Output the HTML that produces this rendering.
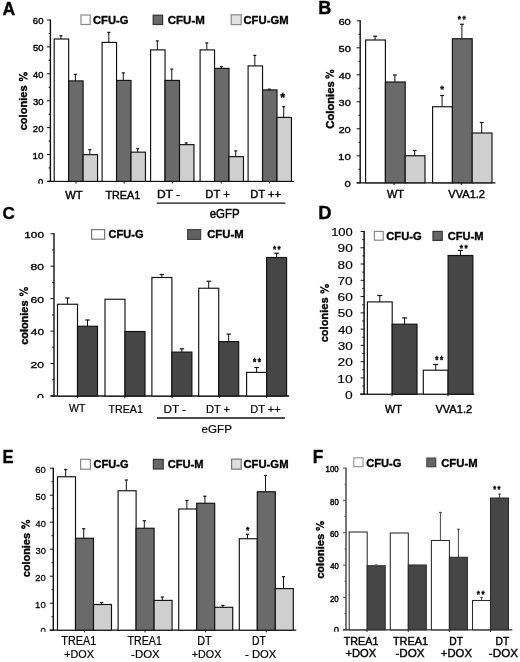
<!DOCTYPE html>
<html><head><meta charset="utf-8"><style>
html,body{margin:0;padding:0;background:#fff;}
svg{display:block;font-family:"Liberation Sans",sans-serif;filter:grayscale(1) blur(0.3px);will-change:transform;}
</style></head><body>
<svg width="520" height="662" viewBox="0 0 520 662">
<rect width="520" height="662" fill="#fff"/>
<line x1="50.40" y1="19.50" x2="50.40" y2="181.90" stroke="#111" stroke-width="1.4"/>
<line x1="46.90" y1="181.40" x2="50.40" y2="181.40" stroke="#111" stroke-width="1.0"/>
<line x1="46.90" y1="154.50" x2="50.40" y2="154.50" stroke="#111" stroke-width="1.0"/>
<line x1="46.90" y1="127.60" x2="50.40" y2="127.60" stroke="#111" stroke-width="1.0"/>
<line x1="46.90" y1="100.70" x2="50.40" y2="100.70" stroke="#111" stroke-width="1.0"/>
<line x1="46.90" y1="73.80" x2="50.40" y2="73.80" stroke="#111" stroke-width="1.0"/>
<line x1="46.90" y1="46.90" x2="50.40" y2="46.90" stroke="#111" stroke-width="1.0"/>
<line x1="46.90" y1="20.00" x2="50.40" y2="20.00" stroke="#111" stroke-width="1.0"/>
<line x1="48.60" y1="167.95" x2="50.40" y2="167.95" stroke="#111" stroke-width="1.0"/>
<line x1="48.60" y1="141.05" x2="50.40" y2="141.05" stroke="#111" stroke-width="1.0"/>
<line x1="48.60" y1="114.15" x2="50.40" y2="114.15" stroke="#111" stroke-width="1.0"/>
<line x1="48.60" y1="87.25" x2="50.40" y2="87.25" stroke="#111" stroke-width="1.0"/>
<line x1="48.60" y1="60.35" x2="50.40" y2="60.35" stroke="#111" stroke-width="1.0"/>
<line x1="48.60" y1="33.45" x2="50.40" y2="33.45" stroke="#111" stroke-width="1.0"/>
<line x1="47.40" y1="181.40" x2="293.80" y2="181.40" stroke="#111" stroke-width="1.3"/>
<line x1="76.00" y1="181.40" x2="76.00" y2="183.60" stroke="#111" stroke-width="1.0"/>
<line x1="124.20" y1="181.40" x2="124.20" y2="183.60" stroke="#111" stroke-width="1.0"/>
<line x1="172.60" y1="181.40" x2="172.60" y2="183.60" stroke="#111" stroke-width="1.0"/>
<line x1="221.20" y1="181.40" x2="221.20" y2="183.60" stroke="#111" stroke-width="1.0"/>
<line x1="269.40" y1="181.40" x2="269.40" y2="183.60" stroke="#111" stroke-width="1.0"/>
<text transform="translate(32.56,158.61) scale(1.103,1)" font-size="8.90" font-weight="normal" fill="#000" stroke="#000" stroke-width="0.36">10</text>
<text transform="translate(32.82,131.71) scale(1.076,1)" font-size="8.90" font-weight="normal" fill="#000" stroke="#000" stroke-width="0.37">20</text>
<text transform="translate(32.94,104.81) scale(1.063,1)" font-size="8.90" font-weight="normal" fill="#000" stroke="#000" stroke-width="0.38">30</text>
<text transform="translate(33.09,77.91) scale(1.048,1)" font-size="8.90" font-weight="normal" fill="#000" stroke="#000" stroke-width="0.38">40</text>
<text transform="translate(32.92,51.01) scale(1.066,1)" font-size="8.90" font-weight="normal" fill="#000" stroke="#000" stroke-width="0.38">50</text>
<text transform="translate(32.82,24.11) scale(1.076,1)" font-size="8.90" font-weight="normal" fill="#000" stroke="#000" stroke-width="0.37">60</text>
<clipPath id="cA"><rect x="30" y="170" width="20" height="13.8"/></clipPath>
<g clip-path="url(#cA)">
<text transform="translate(37.92,185.11) scale(1.093,1)" font-size="8.62" font-weight="normal" fill="#000" stroke="#000" stroke-width="0.37">0</text>
</g>
<rect x="54.20" y="39.00" width="14.45" height="142.40" fill="#ffffff" stroke="#111" stroke-width="1.15"/>
<line x1="60.93" y1="39.00" x2="60.93" y2="35.80" stroke="#111" stroke-width="1.0"/>
<line x1="59.43" y1="35.80" x2="62.43" y2="35.80" stroke="#111" stroke-width="1.2"/>
<rect x="68.65" y="80.90" width="14.45" height="100.50" fill="#6a6a6a" stroke="#111" stroke-width="1.15"/>
<line x1="75.38" y1="80.90" x2="75.38" y2="74.40" stroke="#111" stroke-width="1.0"/>
<line x1="73.88" y1="74.40" x2="76.88" y2="74.40" stroke="#111" stroke-width="1.2"/>
<rect x="83.10" y="154.65" width="14.45" height="26.75" fill="#cfcfcf" stroke="#111" stroke-width="1.15"/>
<line x1="89.82" y1="154.65" x2="89.82" y2="149.65" stroke="#111" stroke-width="1.0"/>
<line x1="88.32" y1="149.65" x2="91.32" y2="149.65" stroke="#111" stroke-width="1.2"/>
<rect x="102.10" y="42.40" width="14.45" height="139.00" fill="#ffffff" stroke="#111" stroke-width="1.15"/>
<line x1="108.82" y1="42.40" x2="108.82" y2="32.40" stroke="#111" stroke-width="1.0"/>
<line x1="107.32" y1="32.40" x2="110.32" y2="32.40" stroke="#111" stroke-width="1.2"/>
<rect x="116.55" y="80.40" width="14.45" height="101.00" fill="#6a6a6a" stroke="#111" stroke-width="1.15"/>
<line x1="123.28" y1="80.40" x2="123.28" y2="72.90" stroke="#111" stroke-width="1.0"/>
<line x1="121.78" y1="72.90" x2="124.78" y2="72.90" stroke="#111" stroke-width="1.2"/>
<rect x="131.00" y="152.15" width="14.45" height="29.25" fill="#cfcfcf" stroke="#111" stroke-width="1.15"/>
<line x1="137.72" y1="152.15" x2="137.72" y2="148.65" stroke="#111" stroke-width="1.0"/>
<line x1="136.22" y1="148.65" x2="139.22" y2="148.65" stroke="#111" stroke-width="1.2"/>
<rect x="150.60" y="49.90" width="14.45" height="131.50" fill="#ffffff" stroke="#111" stroke-width="1.15"/>
<line x1="157.32" y1="49.90" x2="157.32" y2="40.90" stroke="#111" stroke-width="1.0"/>
<line x1="155.82" y1="40.90" x2="158.82" y2="40.90" stroke="#111" stroke-width="1.2"/>
<rect x="165.05" y="80.40" width="14.45" height="101.00" fill="#6a6a6a" stroke="#111" stroke-width="1.15"/>
<line x1="171.77" y1="80.40" x2="171.77" y2="69.15" stroke="#111" stroke-width="1.0"/>
<line x1="170.27" y1="69.15" x2="173.27" y2="69.15" stroke="#111" stroke-width="1.2"/>
<rect x="179.50" y="144.65" width="14.45" height="36.75" fill="#cfcfcf" stroke="#111" stroke-width="1.15"/>
<line x1="186.22" y1="144.65" x2="186.22" y2="142.90" stroke="#111" stroke-width="1.0"/>
<line x1="184.72" y1="142.90" x2="187.72" y2="142.90" stroke="#111" stroke-width="1.2"/>
<rect x="200.10" y="49.90" width="14.45" height="131.50" fill="#ffffff" stroke="#111" stroke-width="1.15"/>
<line x1="206.82" y1="49.90" x2="206.82" y2="42.90" stroke="#111" stroke-width="1.0"/>
<line x1="205.32" y1="42.90" x2="208.32" y2="42.90" stroke="#111" stroke-width="1.2"/>
<rect x="214.55" y="68.40" width="14.45" height="113.00" fill="#6a6a6a" stroke="#111" stroke-width="1.15"/>
<line x1="221.27" y1="68.40" x2="221.27" y2="66.65" stroke="#111" stroke-width="1.0"/>
<line x1="219.77" y1="66.65" x2="222.77" y2="66.65" stroke="#111" stroke-width="1.2"/>
<rect x="229.00" y="156.65" width="14.45" height="24.75" fill="#cfcfcf" stroke="#111" stroke-width="1.15"/>
<line x1="235.72" y1="156.65" x2="235.72" y2="150.90" stroke="#111" stroke-width="1.0"/>
<line x1="234.22" y1="150.90" x2="237.22" y2="150.90" stroke="#111" stroke-width="1.2"/>
<rect x="248.10" y="65.90" width="14.45" height="115.50" fill="#ffffff" stroke="#111" stroke-width="1.15"/>
<line x1="254.82" y1="65.90" x2="254.82" y2="55.40" stroke="#111" stroke-width="1.0"/>
<line x1="253.32" y1="55.40" x2="256.32" y2="55.40" stroke="#111" stroke-width="1.2"/>
<rect x="262.55" y="89.90" width="14.45" height="91.50" fill="#6a6a6a" stroke="#111" stroke-width="1.15"/>
<line x1="269.27" y1="89.90" x2="269.27" y2="89.15" stroke="#111" stroke-width="1.0"/>
<line x1="267.77" y1="89.15" x2="270.77" y2="89.15" stroke="#111" stroke-width="1.2"/>
<rect x="277.00" y="117.40" width="14.45" height="64.00" fill="#cfcfcf" stroke="#111" stroke-width="1.15"/>
<line x1="283.73" y1="117.40" x2="283.73" y2="106.65" stroke="#111" stroke-width="1.0"/>
<line x1="282.23" y1="106.65" x2="285.23" y2="106.65" stroke="#111" stroke-width="1.2"/>
<text transform="translate(280.32,102.36) scale(1.032,1)" font-size="12.08" font-weight="bold" fill="#000" stroke="#000" stroke-width="0.29">*</text>
<text transform="translate(65.14,198.55) scale(0.980,1)" font-size="11.42" font-weight="normal" fill="#000" stroke="#000" stroke-width="0.41">WT</text>
<text transform="translate(105.46,198.55) scale(0.947,1)" font-size="11.42" font-weight="normal" fill="#000" stroke="#000" stroke-width="0.42">TREA1</text>
<text transform="translate(156.90,198.30) scale(1.122,1)" font-size="10.76" font-weight="normal" fill="#000" stroke="#000" stroke-width="0.36">DT -</text>
<text transform="translate(205.27,198.30) scale(1.045,1)" font-size="10.76" font-weight="normal" fill="#000" stroke="#000" stroke-width="0.38">DT +</text>
<text transform="translate(250.28,198.30) scale(1.039,1)" font-size="10.76" font-weight="normal" fill="#000" stroke="#000" stroke-width="0.39">DT ++</text>
<line x1="156.80" y1="203.20" x2="285.40" y2="203.20" stroke="#111" stroke-width="1.3"/>
<text transform="translate(209.71,218.28) scale(0.964,1)" font-size="11.87" font-weight="normal" fill="#000" stroke="#000" stroke-width="0.42">eGFP</text>
<text transform="translate(27.19,130.34) rotate(-90) scale(1.017,1)" font-size="10.88" font-weight="bold" fill="#000" stroke="#000" stroke-width="0.39">colonies</text>
<ellipse cx="25.50" cy="74.00" rx="1.55" ry="1.25" fill="none" stroke="#000" stroke-width="1.3"/>
<ellipse cx="21.00" cy="79.40" rx="1.55" ry="1.25" fill="none" stroke="#000" stroke-width="1.3"/>
<line x1="18.90" y1="74.40" x2="27.60" y2="79.20" stroke="#000" stroke-width="1.3"/>
<text transform="translate(2.44,14.62) scale(0.961,1)" font-size="18.25" font-weight="bold" fill="#000" stroke="#000" stroke-width="0.36">A</text>
<rect x="81.00" y="15.00" width="9.20" height="9.50" fill="#fff" stroke="#8a8a8a" stroke-width="1.2"/>
<text transform="translate(93.03,24.12) scale(1.021,1)" font-size="10.95" font-weight="bold" fill="#000" stroke="#000" stroke-width="0.34">CFU-G</text>
<rect x="153.20" y="15.20" width="9.40" height="9.30" fill="#6a6a6a" stroke="#333" stroke-width="1.2"/>
<text transform="translate(167.71,24.12) scale(1.053,1)" font-size="10.95" font-weight="bold" fill="#000" stroke="#000" stroke-width="0.33">CFU-M</text>
<rect x="231.20" y="14.80" width="10.00" height="9.80" fill="#e2e2e2" stroke="#888" stroke-width="1.2"/>
<text transform="translate(243.47,24.12) scale(1.030,1)" font-size="10.95" font-weight="bold" fill="#000" stroke="#000" stroke-width="0.34">CFU-GM</text>
<line x1="360.20" y1="20.30" x2="360.20" y2="183.30" stroke="#111" stroke-width="1.4"/>
<line x1="356.70" y1="182.80" x2="360.20" y2="182.80" stroke="#111" stroke-width="1.0"/>
<line x1="356.70" y1="155.80" x2="360.20" y2="155.80" stroke="#111" stroke-width="1.0"/>
<line x1="356.70" y1="128.80" x2="360.20" y2="128.80" stroke="#111" stroke-width="1.0"/>
<line x1="356.70" y1="101.80" x2="360.20" y2="101.80" stroke="#111" stroke-width="1.0"/>
<line x1="356.70" y1="74.80" x2="360.20" y2="74.80" stroke="#111" stroke-width="1.0"/>
<line x1="356.70" y1="47.80" x2="360.20" y2="47.80" stroke="#111" stroke-width="1.0"/>
<line x1="356.70" y1="20.80" x2="360.20" y2="20.80" stroke="#111" stroke-width="1.0"/>
<line x1="358.40" y1="169.30" x2="360.20" y2="169.30" stroke="#111" stroke-width="1.0"/>
<line x1="358.40" y1="142.30" x2="360.20" y2="142.30" stroke="#111" stroke-width="1.0"/>
<line x1="358.40" y1="115.30" x2="360.20" y2="115.30" stroke="#111" stroke-width="1.0"/>
<line x1="358.40" y1="88.30" x2="360.20" y2="88.30" stroke="#111" stroke-width="1.0"/>
<line x1="358.40" y1="61.30" x2="360.20" y2="61.30" stroke="#111" stroke-width="1.0"/>
<line x1="358.40" y1="34.30" x2="360.20" y2="34.30" stroke="#111" stroke-width="1.0"/>
<line x1="356.70" y1="182.80" x2="495.50" y2="182.80" stroke="#111" stroke-width="1.3"/>
<line x1="394.00" y1="182.80" x2="394.00" y2="185.00" stroke="#111" stroke-width="1.0"/>
<line x1="461.30" y1="182.80" x2="461.30" y2="185.00" stroke="#111" stroke-width="1.0"/>
<text transform="translate(344.55,186.81) scale(1.250,1)" font-size="9.05" font-weight="normal" fill="#000" stroke="#000" stroke-width="0.32">0</text>
<text transform="translate(338.09,159.81) scale(1.269,1)" font-size="9.05" font-weight="normal" fill="#000" stroke="#000" stroke-width="0.32">10</text>
<text transform="translate(338.39,132.81) scale(1.238,1)" font-size="9.05" font-weight="normal" fill="#000" stroke="#000" stroke-width="0.32">20</text>
<text transform="translate(338.54,105.81) scale(1.223,1)" font-size="9.05" font-weight="normal" fill="#000" stroke="#000" stroke-width="0.33">30</text>
<text transform="translate(338.70,78.81) scale(1.205,1)" font-size="9.05" font-weight="normal" fill="#000" stroke="#000" stroke-width="0.33">40</text>
<text transform="translate(338.51,51.81) scale(1.226,1)" font-size="9.05" font-weight="normal" fill="#000" stroke="#000" stroke-width="0.33">50</text>
<text transform="translate(338.39,24.81) scale(1.238,1)" font-size="9.05" font-weight="normal" fill="#000" stroke="#000" stroke-width="0.32">60</text>
<rect x="365.60" y="40.00" width="19.80" height="142.80" fill="#ffffff" stroke="#111" stroke-width="1.15"/>
<line x1="375.10" y1="40.00" x2="375.10" y2="36.25" stroke="#111" stroke-width="1.0"/>
<line x1="373.20" y1="36.25" x2="377.00" y2="36.25" stroke="#111" stroke-width="1.2"/>
<rect x="385.40" y="82.00" width="19.80" height="100.80" fill="#6a6a6a" stroke="#111" stroke-width="1.15"/>
<line x1="394.90" y1="82.00" x2="394.90" y2="75.00" stroke="#111" stroke-width="1.0"/>
<line x1="393.00" y1="75.00" x2="396.80" y2="75.00" stroke="#111" stroke-width="1.2"/>
<rect x="405.20" y="155.75" width="19.80" height="27.05" fill="#cfcfcf" stroke="#111" stroke-width="1.15"/>
<line x1="414.70" y1="155.75" x2="414.70" y2="150.50" stroke="#111" stroke-width="1.0"/>
<line x1="412.80" y1="150.50" x2="416.60" y2="150.50" stroke="#111" stroke-width="1.2"/>
<rect x="432.60" y="106.75" width="19.80" height="76.05" fill="#ffffff" stroke="#111" stroke-width="1.15"/>
<line x1="442.10" y1="106.75" x2="442.10" y2="95.50" stroke="#111" stroke-width="1.0"/>
<line x1="440.20" y1="95.50" x2="444.00" y2="95.50" stroke="#111" stroke-width="1.2"/>
<rect x="452.40" y="38.75" width="19.80" height="144.05" fill="#6a6a6a" stroke="#111" stroke-width="1.15"/>
<line x1="461.90" y1="38.75" x2="461.90" y2="24.25" stroke="#111" stroke-width="1.0"/>
<line x1="460.00" y1="24.25" x2="463.80" y2="24.25" stroke="#111" stroke-width="1.2"/>
<rect x="472.20" y="133.00" width="19.80" height="49.80" fill="#cfcfcf" stroke="#111" stroke-width="1.15"/>
<line x1="481.70" y1="133.00" x2="481.70" y2="122.50" stroke="#111" stroke-width="1.0"/>
<line x1="479.80" y1="122.50" x2="483.60" y2="122.50" stroke="#111" stroke-width="1.2"/>
<text transform="translate(440.23,92.16) scale(1.119,1)" font-size="8.59" font-weight="bold" fill="#000" stroke="#000" stroke-width="0.27">*</text>
<text transform="translate(457.83,21.51) scale(0.871,1)" font-size="9.40" font-weight="bold" fill="#000" stroke="#000" stroke-width="0.34">*</text>
<text transform="translate(462.48,21.51) scale(0.871,1)" font-size="9.40" font-weight="bold" fill="#000" stroke="#000" stroke-width="0.34">*</text>
<text transform="translate(386.95,198.40) scale(0.940,1)" font-size="11.64" font-weight="normal" fill="#000" stroke="#000" stroke-width="0.43">WT</text>
<text transform="translate(448.34,198.40) scale(0.990,1)" font-size="11.18" font-weight="normal" fill="#000" stroke="#000" stroke-width="0.40">VVA1.2</text>
<text transform="translate(333.68,128.65) rotate(-90) scale(0.971,1)" font-size="11.56" font-weight="bold" fill="#000" stroke="#000" stroke-width="0.41">Colonies</text>
<ellipse cx="332.00" cy="71.30" rx="1.55" ry="1.25" fill="none" stroke="#000" stroke-width="1.3"/>
<ellipse cx="327.40" cy="76.80" rx="1.55" ry="1.25" fill="none" stroke="#000" stroke-width="1.3"/>
<line x1="325.90" y1="72.20" x2="333.60" y2="76.60" stroke="#000" stroke-width="1.3"/>
<text transform="translate(318.15,14.43) scale(1.008,1)" font-size="17.96" font-weight="bold" fill="#000" stroke="#000" stroke-width="0.35">B</text>
<line x1="54.00" y1="233.25" x2="54.00" y2="396.50" stroke="#111" stroke-width="1.4"/>
<line x1="50.50" y1="396.00" x2="54.00" y2="396.00" stroke="#111" stroke-width="1.0"/>
<line x1="50.50" y1="363.55" x2="54.00" y2="363.55" stroke="#111" stroke-width="1.0"/>
<line x1="50.50" y1="331.10" x2="54.00" y2="331.10" stroke="#111" stroke-width="1.0"/>
<line x1="50.50" y1="298.65" x2="54.00" y2="298.65" stroke="#111" stroke-width="1.0"/>
<line x1="50.50" y1="266.20" x2="54.00" y2="266.20" stroke="#111" stroke-width="1.0"/>
<line x1="50.50" y1="233.75" x2="54.00" y2="233.75" stroke="#111" stroke-width="1.0"/>
<line x1="52.20" y1="379.77" x2="54.00" y2="379.77" stroke="#111" stroke-width="1.0"/>
<line x1="52.20" y1="347.32" x2="54.00" y2="347.32" stroke="#111" stroke-width="1.0"/>
<line x1="52.20" y1="314.88" x2="54.00" y2="314.88" stroke="#111" stroke-width="1.0"/>
<line x1="52.20" y1="282.43" x2="54.00" y2="282.43" stroke="#111" stroke-width="1.0"/>
<line x1="52.20" y1="249.97" x2="54.00" y2="249.97" stroke="#111" stroke-width="1.0"/>
<line x1="50.50" y1="396.00" x2="289.20" y2="396.00" stroke="#111" stroke-width="1.3"/>
<line x1="77.50" y1="396.00" x2="77.50" y2="398.20" stroke="#111" stroke-width="1.0"/>
<line x1="124.80" y1="396.00" x2="124.80" y2="398.20" stroke="#111" stroke-width="1.0"/>
<line x1="172.10" y1="396.00" x2="172.10" y2="398.20" stroke="#111" stroke-width="1.0"/>
<line x1="219.40" y1="396.00" x2="219.40" y2="398.20" stroke="#111" stroke-width="1.0"/>
<line x1="266.70" y1="396.00" x2="266.70" y2="398.20" stroke="#111" stroke-width="1.0"/>
<text transform="translate(30.44,367.55) scale(1.272,1)" font-size="9.61" font-weight="normal" fill="#000" stroke="#000" stroke-width="0.31">20</text>
<text transform="translate(30.78,335.10) scale(1.239,1)" font-size="9.61" font-weight="normal" fill="#000" stroke="#000" stroke-width="0.32">40</text>
<text transform="translate(30.44,302.65) scale(1.272,1)" font-size="9.61" font-weight="normal" fill="#000" stroke="#000" stroke-width="0.31">60</text>
<text transform="translate(30.53,270.20) scale(1.263,1)" font-size="9.61" font-weight="normal" fill="#000" stroke="#000" stroke-width="0.32">80</text>
<text transform="translate(24.31,237.75) scale(1.228,1)" font-size="9.61" font-weight="normal" fill="#000" stroke="#000" stroke-width="0.33">100</text>
<clipPath id="cC"><rect x="30" y="380" width="20" height="18.1"/></clipPath>
<g clip-path="url(#cC)">
<text transform="translate(37.33,400.31) scale(1.296,1)" font-size="9.05" font-weight="normal" fill="#000" stroke="#000" stroke-width="0.31">0</text>
</g>
<rect x="57.50" y="304.25" width="20.00" height="91.75" fill="#ffffff" stroke="#111" stroke-width="1.15"/>
<line x1="67.50" y1="304.25" x2="67.50" y2="298.00" stroke="#111" stroke-width="1.0"/>
<line x1="65.25" y1="298.00" x2="69.75" y2="298.00" stroke="#111" stroke-width="1.2"/>
<rect x="77.50" y="326.25" width="20.00" height="69.75" fill="#464646" stroke="#111" stroke-width="1.15"/>
<line x1="87.50" y1="326.25" x2="87.50" y2="320.00" stroke="#111" stroke-width="1.0"/>
<line x1="85.25" y1="320.00" x2="89.75" y2="320.00" stroke="#111" stroke-width="1.2"/>
<rect x="105.00" y="299.25" width="20.00" height="96.75" fill="#ffffff" stroke="#111" stroke-width="1.15"/>
<rect x="125.00" y="331.50" width="20.00" height="64.50" fill="#464646" stroke="#111" stroke-width="1.15"/>
<rect x="151.90" y="277.50" width="20.00" height="118.50" fill="#ffffff" stroke="#111" stroke-width="1.15"/>
<line x1="161.90" y1="277.50" x2="161.90" y2="274.50" stroke="#111" stroke-width="1.0"/>
<line x1="159.65" y1="274.50" x2="164.15" y2="274.50" stroke="#111" stroke-width="1.2"/>
<rect x="171.90" y="352.10" width="20.00" height="43.90" fill="#464646" stroke="#111" stroke-width="1.15"/>
<line x1="181.90" y1="352.10" x2="181.90" y2="348.80" stroke="#111" stroke-width="1.0"/>
<line x1="179.65" y1="348.80" x2="184.15" y2="348.80" stroke="#111" stroke-width="1.2"/>
<rect x="198.70" y="288.25" width="20.00" height="107.75" fill="#ffffff" stroke="#111" stroke-width="1.15"/>
<line x1="208.70" y1="288.25" x2="208.70" y2="281.25" stroke="#111" stroke-width="1.0"/>
<line x1="206.45" y1="281.25" x2="210.95" y2="281.25" stroke="#111" stroke-width="1.2"/>
<rect x="218.70" y="341.60" width="20.00" height="54.40" fill="#464646" stroke="#111" stroke-width="1.15"/>
<line x1="228.70" y1="341.60" x2="228.70" y2="334.10" stroke="#111" stroke-width="1.0"/>
<line x1="226.45" y1="334.10" x2="230.95" y2="334.10" stroke="#111" stroke-width="1.2"/>
<rect x="246.60" y="372.40" width="20.00" height="23.60" fill="#ffffff" stroke="#111" stroke-width="1.15"/>
<line x1="256.60" y1="372.40" x2="256.60" y2="367.50" stroke="#111" stroke-width="1.0"/>
<line x1="254.35" y1="367.50" x2="258.85" y2="367.50" stroke="#111" stroke-width="1.2"/>
<rect x="266.60" y="257.50" width="20.00" height="138.50" fill="#464646" stroke="#111" stroke-width="1.15"/>
<line x1="276.60" y1="257.50" x2="276.60" y2="253.25" stroke="#111" stroke-width="1.0"/>
<line x1="274.35" y1="253.25" x2="278.85" y2="253.25" stroke="#111" stroke-width="1.2"/>
<text transform="translate(253.03,366.12) scale(0.755,1)" font-size="11.01" font-weight="bold" fill="#000" stroke="#000" stroke-width="0.40">*</text>
<text transform="translate(257.73,366.12) scale(0.755,1)" font-size="11.01" font-weight="bold" fill="#000" stroke="#000" stroke-width="0.40">*</text>
<text transform="translate(273.08,252.08) scale(0.791,1)" font-size="9.93" font-weight="bold" fill="#000" stroke="#000" stroke-width="0.38">*</text>
<text transform="translate(277.61,252.08) scale(0.791,1)" font-size="9.93" font-weight="bold" fill="#000" stroke="#000" stroke-width="0.38">*</text>
<text transform="translate(69.05,412.30) scale(0.953,1)" font-size="11.05" font-weight="normal" fill="#000" stroke="#000" stroke-width="0.21">WT</text>
<text transform="translate(108.56,413.00) scale(0.952,1)" font-size="11.20" font-weight="normal" fill="#000" stroke="#000" stroke-width="0.21">TREA1</text>
<text transform="translate(163.43,412.70) scale(1.048,1)" font-size="11.20" font-weight="normal" fill="#000" stroke="#000" stroke-width="0.19">DT -</text>
<text transform="translate(205.98,412.70) scale(0.991,1)" font-size="11.20" font-weight="normal" fill="#000" stroke="#000" stroke-width="0.20">DT +</text>
<text transform="translate(250.18,412.70) scale(0.991,1)" font-size="11.20" font-weight="normal" fill="#000" stroke="#000" stroke-width="0.20">DT ++</text>
<line x1="157.00" y1="418.00" x2="285.00" y2="418.00" stroke="#111" stroke-width="1.3"/>
<text transform="translate(201.61,432.59) scale(1.026,1)" font-size="11.31" font-weight="normal" fill="#000" stroke="#000" stroke-width="0.19">eGFP</text>
<text transform="translate(27.69,344.84) rotate(-90) scale(1.005,1)" font-size="10.88" font-weight="bold" fill="#000" stroke="#000" stroke-width="0.40">colonies</text>
<ellipse cx="26.00" cy="288.90" rx="1.55" ry="1.25" fill="none" stroke="#000" stroke-width="1.3"/>
<ellipse cx="21.50" cy="294.30" rx="1.55" ry="1.25" fill="none" stroke="#000" stroke-width="1.3"/>
<line x1="19.30" y1="289.20" x2="27.70" y2="293.70" stroke="#000" stroke-width="1.3"/>
<text transform="translate(2.59,219.05) scale(0.983,1)" font-size="17.31" font-weight="bold" fill="#000" stroke="#000" stroke-width="0.36">C</text>
<rect x="91.60" y="229.60" width="13.00" height="9.60" fill="#fff" stroke="#777" stroke-width="1.2"/>
<text transform="translate(108.48,238.47) scale(1.095,1)" font-size="10.11" font-weight="bold" fill="#000" stroke="#000" stroke-width="0.32">CFU-G</text>
<rect x="187.60" y="229.60" width="13.00" height="9.80" fill="#606060" stroke="#444" stroke-width="1.2"/>
<text transform="translate(207.22,238.47) scale(1.117,1)" font-size="10.11" font-weight="bold" fill="#000" stroke="#000" stroke-width="0.31">CFU-M</text>
<line x1="364.10" y1="231.00" x2="364.10" y2="394.70" stroke="#111" stroke-width="1.5"/>
<line x1="360.60" y1="394.20" x2="364.10" y2="394.20" stroke="#111" stroke-width="1.0"/>
<line x1="360.60" y1="377.93" x2="364.10" y2="377.93" stroke="#111" stroke-width="1.0"/>
<line x1="360.60" y1="361.66" x2="364.10" y2="361.66" stroke="#111" stroke-width="1.0"/>
<line x1="360.60" y1="345.39" x2="364.10" y2="345.39" stroke="#111" stroke-width="1.0"/>
<line x1="360.60" y1="329.12" x2="364.10" y2="329.12" stroke="#111" stroke-width="1.0"/>
<line x1="360.60" y1="312.85" x2="364.10" y2="312.85" stroke="#111" stroke-width="1.0"/>
<line x1="360.60" y1="296.58" x2="364.10" y2="296.58" stroke="#111" stroke-width="1.0"/>
<line x1="360.60" y1="280.31" x2="364.10" y2="280.31" stroke="#111" stroke-width="1.0"/>
<line x1="360.60" y1="264.04" x2="364.10" y2="264.04" stroke="#111" stroke-width="1.0"/>
<line x1="360.60" y1="247.77" x2="364.10" y2="247.77" stroke="#111" stroke-width="1.0"/>
<line x1="360.60" y1="231.50" x2="364.10" y2="231.50" stroke="#111" stroke-width="1.0"/>
<line x1="362.30" y1="386.06" x2="364.10" y2="386.06" stroke="#111" stroke-width="1.0"/>
<line x1="362.30" y1="369.79" x2="364.10" y2="369.79" stroke="#111" stroke-width="1.0"/>
<line x1="362.30" y1="353.52" x2="364.10" y2="353.52" stroke="#111" stroke-width="1.0"/>
<line x1="362.30" y1="337.25" x2="364.10" y2="337.25" stroke="#111" stroke-width="1.0"/>
<line x1="362.30" y1="320.99" x2="364.10" y2="320.99" stroke="#111" stroke-width="1.0"/>
<line x1="362.30" y1="304.71" x2="364.10" y2="304.71" stroke="#111" stroke-width="1.0"/>
<line x1="362.30" y1="288.44" x2="364.10" y2="288.44" stroke="#111" stroke-width="1.0"/>
<line x1="362.30" y1="272.17" x2="364.10" y2="272.17" stroke="#111" stroke-width="1.0"/>
<line x1="362.30" y1="255.91" x2="364.10" y2="255.91" stroke="#111" stroke-width="1.0"/>
<line x1="362.30" y1="239.63" x2="364.10" y2="239.63" stroke="#111" stroke-width="1.0"/>
<line x1="360.10" y1="394.20" x2="474.40" y2="394.20" stroke="#111" stroke-width="1.3"/>
<line x1="392.00" y1="394.20" x2="392.00" y2="396.40" stroke="#111" stroke-width="1.0"/>
<line x1="448.00" y1="394.20" x2="448.00" y2="396.40" stroke="#111" stroke-width="1.0"/>
<text transform="translate(345.05,398.80) scale(1.377,1)" font-size="10.04" font-weight="normal" fill="#000" stroke="#000" stroke-width="0.15">0</text>
<text transform="translate(337.15,382.53) scale(1.399,1)" font-size="10.04" font-weight="normal" fill="#000" stroke="#000" stroke-width="0.14">10</text>
<text transform="translate(337.52,366.26) scale(1.364,1)" font-size="10.04" font-weight="normal" fill="#000" stroke="#000" stroke-width="0.15">20</text>
<text transform="translate(337.69,349.99) scale(1.348,1)" font-size="10.04" font-weight="normal" fill="#000" stroke="#000" stroke-width="0.15">30</text>
<text transform="translate(337.90,333.72) scale(1.329,1)" font-size="10.04" font-weight="normal" fill="#000" stroke="#000" stroke-width="0.15">40</text>
<text transform="translate(337.66,317.45) scale(1.351,1)" font-size="10.04" font-weight="normal" fill="#000" stroke="#000" stroke-width="0.15">50</text>
<text transform="translate(337.52,301.18) scale(1.364,1)" font-size="10.04" font-weight="normal" fill="#000" stroke="#000" stroke-width="0.15">60</text>
<text transform="translate(337.48,284.91) scale(1.368,1)" font-size="10.04" font-weight="normal" fill="#000" stroke="#000" stroke-width="0.15">70</text>
<text transform="translate(337.62,268.64) scale(1.354,1)" font-size="10.04" font-weight="normal" fill="#000" stroke="#000" stroke-width="0.15">80</text>
<text transform="translate(337.55,252.37) scale(1.361,1)" font-size="10.04" font-weight="normal" fill="#000" stroke="#000" stroke-width="0.15">90</text>
<text transform="translate(331.13,236.10) scale(1.288,1)" font-size="10.04" font-weight="normal" fill="#000" stroke="#000" stroke-width="0.16">100</text>
<rect x="367.40" y="301.90" width="24.80" height="92.30" fill="#ffffff" stroke="#111" stroke-width="1.15"/>
<line x1="379.80" y1="301.90" x2="379.80" y2="295.50" stroke="#111" stroke-width="1.0"/>
<line x1="377.30" y1="295.50" x2="382.30" y2="295.50" stroke="#111" stroke-width="1.2"/>
<rect x="392.20" y="324.20" width="24.80" height="70.00" fill="#464646" stroke="#111" stroke-width="1.15"/>
<line x1="404.60" y1="324.20" x2="404.60" y2="317.90" stroke="#111" stroke-width="1.0"/>
<line x1="402.10" y1="317.90" x2="407.10" y2="317.90" stroke="#111" stroke-width="1.2"/>
<rect x="423.30" y="370.20" width="24.80" height="24.00" fill="#ffffff" stroke="#111" stroke-width="1.15"/>
<line x1="435.70" y1="370.20" x2="435.70" y2="364.50" stroke="#111" stroke-width="1.0"/>
<line x1="433.20" y1="364.50" x2="438.20" y2="364.50" stroke="#111" stroke-width="1.2"/>
<rect x="448.10" y="255.50" width="24.80" height="138.70" fill="#464646" stroke="#111" stroke-width="1.15"/>
<line x1="460.50" y1="255.50" x2="460.50" y2="250.50" stroke="#111" stroke-width="1.0"/>
<line x1="458.00" y1="250.50" x2="463.00" y2="250.50" stroke="#111" stroke-width="1.2"/>
<text transform="translate(435.33,363.75) scale(0.781,1)" font-size="10.47" font-weight="bold" fill="#000" stroke="#000" stroke-width="0.38">*</text>
<text transform="translate(439.98,363.75) scale(0.781,1)" font-size="10.47" font-weight="bold" fill="#000" stroke="#000" stroke-width="0.38">*</text>
<text transform="translate(459.83,250.58) scale(0.824,1)" font-size="9.93" font-weight="bold" fill="#000" stroke="#000" stroke-width="0.36">*</text>
<text transform="translate(464.48,250.58) scale(0.824,1)" font-size="9.93" font-weight="bold" fill="#000" stroke="#000" stroke-width="0.36">*</text>
<text transform="translate(385.05,412.80) scale(0.970,1)" font-size="11.20" font-weight="normal" fill="#000" stroke="#000" stroke-width="0.41">WT</text>
<text transform="translate(435.44,412.80) scale(0.990,1)" font-size="11.18" font-weight="normal" fill="#000" stroke="#000" stroke-width="0.40">VVA1.2</text>
<text transform="translate(328.19,342.34) rotate(-90) scale(1.007,1)" font-size="11.02" font-weight="bold" fill="#000" stroke="#000" stroke-width="0.40">colonies</text>
<ellipse cx="326.90" cy="286.00" rx="1.55" ry="1.25" fill="none" stroke="#000" stroke-width="1.3"/>
<ellipse cx="322.40" cy="291.70" rx="1.55" ry="1.25" fill="none" stroke="#000" stroke-width="1.3"/>
<line x1="320.10" y1="286.70" x2="328.70" y2="291.50" stroke="#000" stroke-width="1.3"/>
<text transform="translate(318.14,219.22) scale(1.039,1)" font-size="17.67" font-weight="bold" fill="#000" stroke="#000" stroke-width="0.34">D</text>
<rect x="374.40" y="231.40" width="8.80" height="8.80" fill="#fff" stroke="#888" stroke-width="1.2"/>
<text transform="translate(386.23,240.47) scale(1.111,1)" font-size="10.11" font-weight="bold" fill="#000" stroke="#000" stroke-width="0.31">CFU-G</text>
<rect x="433.00" y="231.40" width="9.20" height="9.00" fill="#666" stroke="#333" stroke-width="1.2"/>
<text transform="translate(447.73,240.47) scale(1.102,1)" font-size="10.11" font-weight="bold" fill="#000" stroke="#000" stroke-width="0.32">CFU-M</text>
<line x1="53.30" y1="467.70" x2="53.30" y2="630.70" stroke="#111" stroke-width="1.4"/>
<line x1="49.80" y1="630.20" x2="53.30" y2="630.20" stroke="#111" stroke-width="1.0"/>
<line x1="49.80" y1="603.20" x2="53.30" y2="603.20" stroke="#111" stroke-width="1.0"/>
<line x1="49.80" y1="576.20" x2="53.30" y2="576.20" stroke="#111" stroke-width="1.0"/>
<line x1="49.80" y1="549.20" x2="53.30" y2="549.20" stroke="#111" stroke-width="1.0"/>
<line x1="49.80" y1="522.20" x2="53.30" y2="522.20" stroke="#111" stroke-width="1.0"/>
<line x1="49.80" y1="495.20" x2="53.30" y2="495.20" stroke="#111" stroke-width="1.0"/>
<line x1="49.80" y1="468.20" x2="53.30" y2="468.20" stroke="#111" stroke-width="1.0"/>
<line x1="51.50" y1="616.70" x2="53.30" y2="616.70" stroke="#111" stroke-width="1.0"/>
<line x1="51.50" y1="589.70" x2="53.30" y2="589.70" stroke="#111" stroke-width="1.0"/>
<line x1="51.50" y1="562.70" x2="53.30" y2="562.70" stroke="#111" stroke-width="1.0"/>
<line x1="51.50" y1="535.70" x2="53.30" y2="535.70" stroke="#111" stroke-width="1.0"/>
<line x1="51.50" y1="508.70" x2="53.30" y2="508.70" stroke="#111" stroke-width="1.0"/>
<line x1="51.50" y1="481.70" x2="53.30" y2="481.70" stroke="#111" stroke-width="1.0"/>
<line x1="49.80" y1="630.20" x2="296.30" y2="630.20" stroke="#111" stroke-width="1.3"/>
<line x1="84.50" y1="630.20" x2="84.50" y2="632.40" stroke="#111" stroke-width="1.0"/>
<line x1="145.00" y1="630.20" x2="145.00" y2="632.40" stroke="#111" stroke-width="1.0"/>
<line x1="205.60" y1="630.20" x2="205.60" y2="632.40" stroke="#111" stroke-width="1.0"/>
<line x1="266.20" y1="630.20" x2="266.20" y2="632.40" stroke="#111" stroke-width="1.0"/>
<text transform="translate(35.10,607.78) scale(0.985,1)" font-size="9.82" font-weight="normal" fill="#000" stroke="#000" stroke-width="0.25">10</text>
<text transform="translate(35.35,580.78) scale(0.961,1)" font-size="9.82" font-weight="normal" fill="#000" stroke="#000" stroke-width="0.26">20</text>
<text transform="translate(35.48,553.78) scale(0.949,1)" font-size="9.82" font-weight="normal" fill="#000" stroke="#000" stroke-width="0.26">30</text>
<text transform="translate(35.62,526.78) scale(0.936,1)" font-size="9.82" font-weight="normal" fill="#000" stroke="#000" stroke-width="0.27">40</text>
<text transform="translate(35.45,499.78) scale(0.951,1)" font-size="9.82" font-weight="normal" fill="#000" stroke="#000" stroke-width="0.26">50</text>
<text transform="translate(35.35,472.78) scale(0.961,1)" font-size="9.82" font-weight="normal" fill="#000" stroke="#000" stroke-width="0.26">60</text>
<clipPath id="cE"><rect x="30" y="620" width="20" height="11.8"/></clipPath>
<g clip-path="url(#cE)">
<text transform="translate(40.44,633.88) scale(0.991,1)" font-size="9.82" font-weight="normal" fill="#000" stroke="#000" stroke-width="0.25">0</text>
</g>
<rect x="57.50" y="476.75" width="18.00" height="153.45" fill="#ffffff" stroke="#111" stroke-width="1.15"/>
<line x1="65.70" y1="476.75" x2="65.70" y2="469.50" stroke="#111" stroke-width="1.0"/>
<line x1="64.10" y1="469.50" x2="67.30" y2="469.50" stroke="#111" stroke-width="1.2"/>
<rect x="75.50" y="538.25" width="18.00" height="91.95" fill="#6a6a6a" stroke="#111" stroke-width="1.15"/>
<line x1="83.70" y1="538.25" x2="83.70" y2="528.75" stroke="#111" stroke-width="1.0"/>
<line x1="82.10" y1="528.75" x2="85.30" y2="528.75" stroke="#111" stroke-width="1.2"/>
<rect x="93.50" y="604.50" width="18.00" height="25.70" fill="#cfcfcf" stroke="#111" stroke-width="1.15"/>
<line x1="101.70" y1="604.50" x2="101.70" y2="602.50" stroke="#111" stroke-width="1.0"/>
<line x1="100.10" y1="602.50" x2="103.30" y2="602.50" stroke="#111" stroke-width="1.2"/>
<rect x="118.10" y="490.75" width="18.00" height="139.45" fill="#ffffff" stroke="#111" stroke-width="1.15"/>
<line x1="126.30" y1="490.75" x2="126.30" y2="480.00" stroke="#111" stroke-width="1.0"/>
<line x1="124.70" y1="480.00" x2="127.90" y2="480.00" stroke="#111" stroke-width="1.2"/>
<rect x="136.10" y="528.25" width="18.00" height="101.95" fill="#6a6a6a" stroke="#111" stroke-width="1.15"/>
<line x1="144.30" y1="528.25" x2="144.30" y2="520.75" stroke="#111" stroke-width="1.0"/>
<line x1="142.70" y1="520.75" x2="145.90" y2="520.75" stroke="#111" stroke-width="1.2"/>
<rect x="154.10" y="600.40" width="18.00" height="29.80" fill="#cfcfcf" stroke="#111" stroke-width="1.15"/>
<line x1="162.30" y1="600.40" x2="162.30" y2="597.00" stroke="#111" stroke-width="1.0"/>
<line x1="160.70" y1="597.00" x2="163.90" y2="597.00" stroke="#111" stroke-width="1.2"/>
<rect x="178.70" y="509.00" width="18.00" height="121.20" fill="#ffffff" stroke="#111" stroke-width="1.15"/>
<line x1="186.90" y1="509.00" x2="186.90" y2="500.50" stroke="#111" stroke-width="1.0"/>
<line x1="185.30" y1="500.50" x2="188.50" y2="500.50" stroke="#111" stroke-width="1.2"/>
<rect x="196.70" y="503.25" width="18.00" height="126.95" fill="#6a6a6a" stroke="#111" stroke-width="1.15"/>
<line x1="204.90" y1="503.25" x2="204.90" y2="496.25" stroke="#111" stroke-width="1.0"/>
<line x1="203.30" y1="496.25" x2="206.50" y2="496.25" stroke="#111" stroke-width="1.2"/>
<rect x="214.70" y="607.30" width="18.00" height="22.90" fill="#cfcfcf" stroke="#111" stroke-width="1.15"/>
<line x1="222.90" y1="607.30" x2="222.90" y2="605.40" stroke="#111" stroke-width="1.0"/>
<line x1="221.30" y1="605.40" x2="224.50" y2="605.40" stroke="#111" stroke-width="1.2"/>
<rect x="239.30" y="538.75" width="18.00" height="91.45" fill="#ffffff" stroke="#111" stroke-width="1.15"/>
<line x1="247.50" y1="538.75" x2="247.50" y2="534.25" stroke="#111" stroke-width="1.0"/>
<line x1="245.90" y1="534.25" x2="249.10" y2="534.25" stroke="#111" stroke-width="1.2"/>
<rect x="257.30" y="491.75" width="18.00" height="138.45" fill="#6a6a6a" stroke="#111" stroke-width="1.15"/>
<line x1="265.50" y1="491.75" x2="265.50" y2="475.50" stroke="#111" stroke-width="1.0"/>
<line x1="263.90" y1="475.50" x2="267.10" y2="475.50" stroke="#111" stroke-width="1.2"/>
<rect x="275.30" y="588.60" width="18.00" height="41.60" fill="#cfcfcf" stroke="#111" stroke-width="1.15"/>
<line x1="283.50" y1="588.60" x2="283.50" y2="576.70" stroke="#111" stroke-width="1.0"/>
<line x1="281.90" y1="576.70" x2="285.10" y2="576.70" stroke="#111" stroke-width="1.2"/>
<text transform="translate(246.08,532.78) scale(0.863,1)" font-size="9.93" font-weight="bold" fill="#000" stroke="#000" stroke-width="0.35">*</text>
<text transform="translate(61.36,645.10) scale(0.870,1)" font-size="12.51" font-weight="normal" fill="#000" stroke="#000" stroke-width="0.23">TREA1</text>
<text transform="translate(64.16,658.10) scale(1.035,1)" font-size="10.46" font-weight="normal" fill="#000" stroke="#000" stroke-width="0.19">+DOX</text>
<text transform="translate(127.56,645.10) scale(0.852,1)" font-size="12.51" font-weight="normal" fill="#000" stroke="#000" stroke-width="0.23">TREA1</text>
<text transform="translate(131.08,658.10) scale(1.097,1)" font-size="10.46" font-weight="normal" fill="#000" stroke="#000" stroke-width="0.18">-DOX</text>
<text transform="translate(197.21,645.10) scale(0.866,1)" font-size="12.51" font-weight="normal" fill="#000" stroke="#000" stroke-width="0.23">DT</text>
<text transform="translate(191.86,658.10) scale(1.024,1)" font-size="10.46" font-weight="normal" fill="#000" stroke="#000" stroke-width="0.20">+DOX</text>
<text transform="translate(251.95,645.10) scale(0.827,1)" font-size="12.51" font-weight="normal" fill="#000" stroke="#000" stroke-width="0.24">DT</text>
<text transform="translate(244.99,658.10) scale(1.080,1)" font-size="10.46" font-weight="normal" fill="#000" stroke="#000" stroke-width="0.19">- DOX</text>
<text transform="translate(29.50,577.34) rotate(-90) scale(1.045,1)" font-size="10.48" font-weight="bold" fill="#000" stroke="#000" stroke-width="0.38">colonies</text>
<ellipse cx="27.90" cy="521.60" rx="1.55" ry="1.25" fill="none" stroke="#000" stroke-width="1.3"/>
<ellipse cx="23.40" cy="527.00" rx="1.55" ry="1.25" fill="none" stroke="#000" stroke-width="1.3"/>
<line x1="21.40" y1="522.00" x2="29.70" y2="526.50" stroke="#000" stroke-width="1.3"/>
<text transform="translate(2.56,462.72) scale(0.905,1)" font-size="18.25" font-weight="bold" fill="#000" stroke="#000" stroke-width="0.39">E</text>
<rect x="80.60" y="459.30" width="9.80" height="9.90" fill="#fff" stroke="#888" stroke-width="1.2"/>
<text transform="translate(93.48,467.92) scale(1.066,1)" font-size="10.39" font-weight="bold" fill="#000" stroke="#000" stroke-width="0.33">CFU-G</text>
<rect x="153.40" y="459.40" width="9.80" height="9.60" fill="#6a6a6a" stroke="#333" stroke-width="1.2"/>
<text transform="translate(167.73,467.92) scale(1.072,1)" font-size="10.39" font-weight="bold" fill="#000" stroke="#000" stroke-width="0.33">CFU-M</text>
<rect x="231.60" y="459.10" width="9.60" height="10.10" fill="#dedede" stroke="#777" stroke-width="1.2"/>
<text transform="translate(243.47,467.92) scale(1.086,1)" font-size="10.39" font-weight="bold" fill="#000" stroke="#000" stroke-width="0.32">CFU-GM</text>
<line x1="346.00" y1="467.60" x2="346.00" y2="630.30" stroke="#555" stroke-width="1.6"/>
<line x1="343.00" y1="629.80" x2="346.00" y2="629.80" stroke="#555" stroke-width="1.0"/>
<line x1="343.00" y1="597.46" x2="346.00" y2="597.46" stroke="#555" stroke-width="1.0"/>
<line x1="343.00" y1="565.12" x2="346.00" y2="565.12" stroke="#555" stroke-width="1.0"/>
<line x1="343.00" y1="532.78" x2="346.00" y2="532.78" stroke="#555" stroke-width="1.0"/>
<line x1="343.00" y1="500.44" x2="346.00" y2="500.44" stroke="#555" stroke-width="1.0"/>
<line x1="343.00" y1="468.10" x2="346.00" y2="468.10" stroke="#555" stroke-width="1.0"/>
<line x1="344.50" y1="613.63" x2="346.00" y2="613.63" stroke="#555" stroke-width="1.0"/>
<line x1="344.50" y1="581.29" x2="346.00" y2="581.29" stroke="#555" stroke-width="1.0"/>
<line x1="344.50" y1="548.95" x2="346.00" y2="548.95" stroke="#555" stroke-width="1.0"/>
<line x1="344.50" y1="516.61" x2="346.00" y2="516.61" stroke="#555" stroke-width="1.0"/>
<line x1="344.50" y1="484.27" x2="346.00" y2="484.27" stroke="#555" stroke-width="1.0"/>
<line x1="343.00" y1="629.80" x2="512.30" y2="629.80" stroke="#333" stroke-width="1.2"/>
<line x1="367.00" y1="629.80" x2="367.00" y2="632.00" stroke="#333" stroke-width="1.0"/>
<line x1="408.20" y1="629.80" x2="408.20" y2="632.00" stroke="#333" stroke-width="1.0"/>
<line x1="449.30" y1="629.80" x2="449.30" y2="632.00" stroke="#333" stroke-width="1.0"/>
<line x1="490.50" y1="629.80" x2="490.50" y2="632.00" stroke="#333" stroke-width="1.0"/>
<text transform="translate(330.01,601.57) scale(0.907,1)" font-size="8.62" font-weight="normal" fill="#000" stroke="#000" stroke-width="0.44">20</text>
<text transform="translate(330.23,569.23) scale(0.884,1)" font-size="8.62" font-weight="normal" fill="#000" stroke="#000" stroke-width="0.45">40</text>
<text transform="translate(330.01,536.89) scale(0.907,1)" font-size="8.62" font-weight="normal" fill="#000" stroke="#000" stroke-width="0.44">60</text>
<text transform="translate(330.07,504.55) scale(0.901,1)" font-size="8.62" font-weight="normal" fill="#000" stroke="#000" stroke-width="0.44">80</text>
<text transform="translate(325.61,472.21) scale(0.910,1)" font-size="8.62" font-weight="normal" fill="#000" stroke="#000" stroke-width="0.44">100</text>
<clipPath id="cF"><rect x="320" y="620" width="20" height="11.8"/></clipPath>
<g clip-path="url(#cF)">
<text transform="translate(333.72,633.22) scale(1.130,1)" font-size="8.34" font-weight="normal" fill="#000" stroke="#000" stroke-width="0.35">0</text>
</g>
<rect x="349.20" y="532.00" width="18.00" height="97.80" fill="#ffffff" stroke="#2a2a2a" stroke-width="1.05"/>
<rect x="367.20" y="565.75" width="18.00" height="64.05" fill="#464646" stroke="#2a2a2a" stroke-width="1.05"/>
<line x1="376.20" y1="565.75" x2="376.20" y2="565.00" stroke="#444" stroke-width="1.0"/>
<line x1="374.95" y1="565.00" x2="377.45" y2="565.00" stroke="#444" stroke-width="1.2"/>
<rect x="390.30" y="533.00" width="18.00" height="96.80" fill="#ffffff" stroke="#2a2a2a" stroke-width="1.05"/>
<rect x="408.30" y="565.00" width="18.00" height="64.80" fill="#464646" stroke="#2a2a2a" stroke-width="1.05"/>
<rect x="431.40" y="540.50" width="18.00" height="89.30" fill="#ffffff" stroke="#2a2a2a" stroke-width="1.05"/>
<line x1="440.40" y1="540.50" x2="440.40" y2="512.50" stroke="#444" stroke-width="1.0"/>
<line x1="439.15" y1="512.50" x2="441.65" y2="512.50" stroke="#444" stroke-width="1.2"/>
<rect x="449.40" y="557.30" width="18.00" height="72.50" fill="#464646" stroke="#2a2a2a" stroke-width="1.05"/>
<line x1="458.40" y1="557.30" x2="458.40" y2="529.30" stroke="#444" stroke-width="1.0"/>
<line x1="457.15" y1="529.30" x2="459.65" y2="529.30" stroke="#444" stroke-width="1.2"/>
<rect x="472.50" y="600.50" width="18.00" height="29.30" fill="#ffffff" stroke="#2a2a2a" stroke-width="1.05"/>
<line x1="481.50" y1="600.50" x2="481.50" y2="597.50" stroke="#444" stroke-width="1.0"/>
<line x1="480.25" y1="597.50" x2="482.75" y2="597.50" stroke="#444" stroke-width="1.2"/>
<rect x="490.50" y="498.00" width="18.00" height="131.80" fill="#464646" stroke="#2a2a2a" stroke-width="1.05"/>
<line x1="499.50" y1="498.00" x2="499.50" y2="494.00" stroke="#444" stroke-width="1.0"/>
<line x1="498.25" y1="494.00" x2="500.75" y2="494.00" stroke="#444" stroke-width="1.2"/>
<text transform="translate(476.83,597.18) scale(0.824,1)" font-size="9.93" font-weight="bold" fill="#000" stroke="#000" stroke-width="0.36">*</text>
<text transform="translate(481.48,597.18) scale(0.824,1)" font-size="9.93" font-weight="bold" fill="#000" stroke="#000" stroke-width="0.36">*</text>
<text transform="translate(493.23,492.28) scale(0.745,1)" font-size="9.93" font-weight="bold" fill="#000" stroke="#000" stroke-width="0.40">*</text>
<text transform="translate(497.58,492.28) scale(0.745,1)" font-size="9.93" font-weight="bold" fill="#000" stroke="#000" stroke-width="0.40">*</text>
<text transform="translate(343.76,644.80) scale(0.960,1)" font-size="11.20" font-weight="normal" fill="#000" stroke="#000" stroke-width="0.42">TREA1</text>
<text transform="translate(345.44,657.49) scale(1.015,1)" font-size="11.02" font-weight="normal" fill="#000" stroke="#000" stroke-width="0.39">+DOX</text>
<text transform="translate(392.96,644.80) scale(0.971,1)" font-size="11.20" font-weight="normal" fill="#000" stroke="#000" stroke-width="0.41">TREA1</text>
<text transform="translate(395.47,657.49) scale(1.059,1)" font-size="11.02" font-weight="normal" fill="#000" stroke="#000" stroke-width="0.38">-DOX</text>
<text transform="translate(449.35,644.80) scale(0.916,1)" font-size="11.20" font-weight="normal" fill="#000" stroke="#000" stroke-width="0.44">DT</text>
<text transform="translate(440.83,657.49) scale(1.026,1)" font-size="11.02" font-weight="normal" fill="#000" stroke="#000" stroke-width="0.39">+DOX</text>
<text transform="translate(495.55,644.80) scale(0.916,1)" font-size="11.20" font-weight="normal" fill="#000" stroke="#000" stroke-width="0.44">DT</text>
<text transform="translate(488.87,657.49) scale(1.059,1)" font-size="11.02" font-weight="normal" fill="#000" stroke="#000" stroke-width="0.38">-DOX</text>
<text transform="translate(323.69,578.84) rotate(-90) scale(1.045,1)" font-size="10.61" font-weight="bold" fill="#000" stroke="#000" stroke-width="0.38">colonies</text>
<ellipse cx="322.10" cy="523.00" rx="1.55" ry="1.25" fill="none" stroke="#000" stroke-width="1.3"/>
<ellipse cx="317.90" cy="528.80" rx="1.55" ry="1.25" fill="none" stroke="#000" stroke-width="1.3"/>
<line x1="315.90" y1="523.40" x2="323.90" y2="527.80" stroke="#000" stroke-width="1.3"/>
<text transform="translate(312.81,462.72) scale(0.976,1)" font-size="17.67" font-weight="bold" fill="#000" stroke="#000" stroke-width="0.36">F</text>
<rect x="353.80" y="457.80" width="9.20" height="8.80" fill="#fff" stroke="#999" stroke-width="1.2"/>
<text transform="translate(366.23,466.81) scale(0.980,1)" font-size="11.38" font-weight="bold" fill="#000" stroke="#000" stroke-width="0.36">CFU-G</text>
<rect x="426.85" y="458.10" width="8.80" height="8.60" fill="#666" stroke="#444" stroke-width="1.2"/>
<text transform="translate(441.22,466.81) scale(0.993,1)" font-size="11.38" font-weight="bold" fill="#000" stroke="#000" stroke-width="0.35">CFU-M</text>
</svg></body></html>
